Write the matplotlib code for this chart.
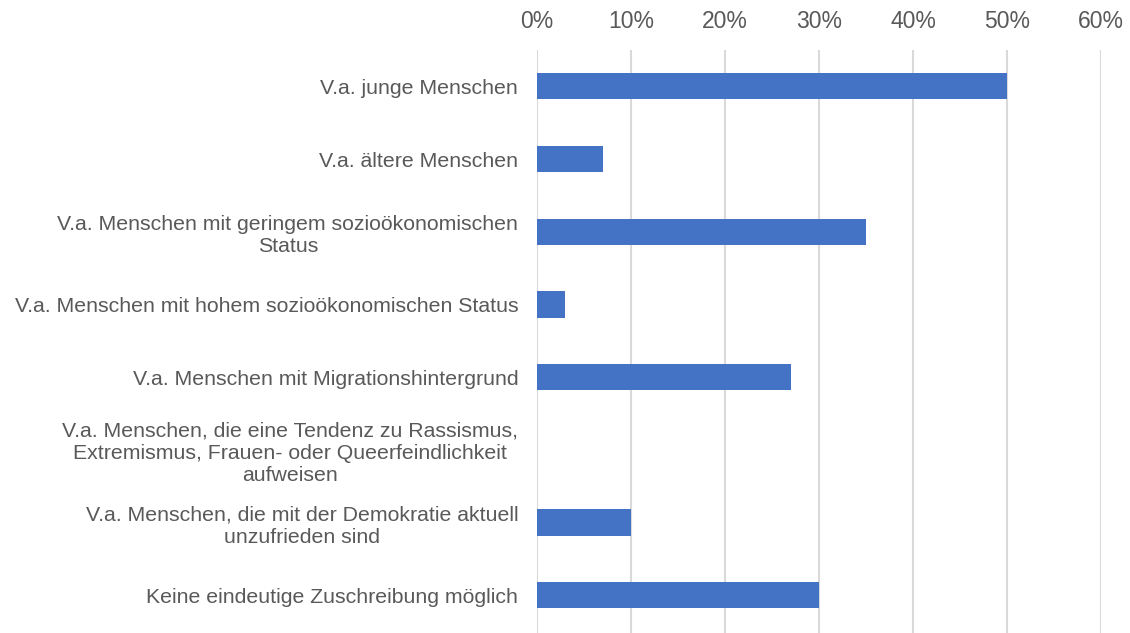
import matplotlib
matplotlib.use("Agg")
import matplotlib.pyplot as plt
from matplotlib.ticker import FuncFormatter

categories = [
    "V.a. junge Menschen",
    "V.a. ältere Menschen",
    "V.a. Menschen mit geringem sozioökonomischen\nStatus",
    "V.a. Menschen mit hohem sozioökonomischen Status",
    "V.a. Menschen mit Migrationshintergrund",
    "V.a. Menschen, die eine Tendenz zu Rassismus,\nExtremismus, Frauen- oder Queerfeindlichkeit\naufweisen",
    "V.a. Menschen, die mit der Demokratie aktuell\nunzufrieden sind",
    "Keine eindeutige Zuschreibung möglich",
]
values = [50, 7, 35, 3, 27, 0, 10, 30]
xticks = [0, 10, 20, 30, 40, 50, 60]

plt.rcParams['font.family'] = ['Liberation Sans', 'DejaVu Sans']

fig = plt.figure(figsize=(11.3, 6.33), dpi=100)
ax = fig.add_axes([537/1130, 0, (1101-537)/1130, (633-50)/633])

y = list(range(len(categories)))
ax.barh(y, values, height=0.36, color="#4472C4", edgecolor="none", zorder=3)
ax.set_ylim(len(categories)-0.5+0.02, -0.5)
ax.set_xlim(0, 60)
ax.set_xticks(xticks)
ax.xaxis.set_major_formatter(FuncFormatter(lambda v, p: f"{int(v)}%"))
ax.xaxis.tick_top()
ax.tick_params(axis='x', length=0, pad=12, labelsize=16.5, labelcolor="#595959")
ax.set_yticks(y)
ax.set_yticklabels(categories, fontsize=15.3, color="#595959", multialignment='center', linespacing=1.2)
ax.tick_params(axis='y', length=0, pad=13.5)
ax.grid(axis='x', color="#d9d9d9", linewidth=1.5, zorder=0)
for s in ax.spines.values():
    s.set_visible(False)

fig.savefig("out.png", dpi=100)
